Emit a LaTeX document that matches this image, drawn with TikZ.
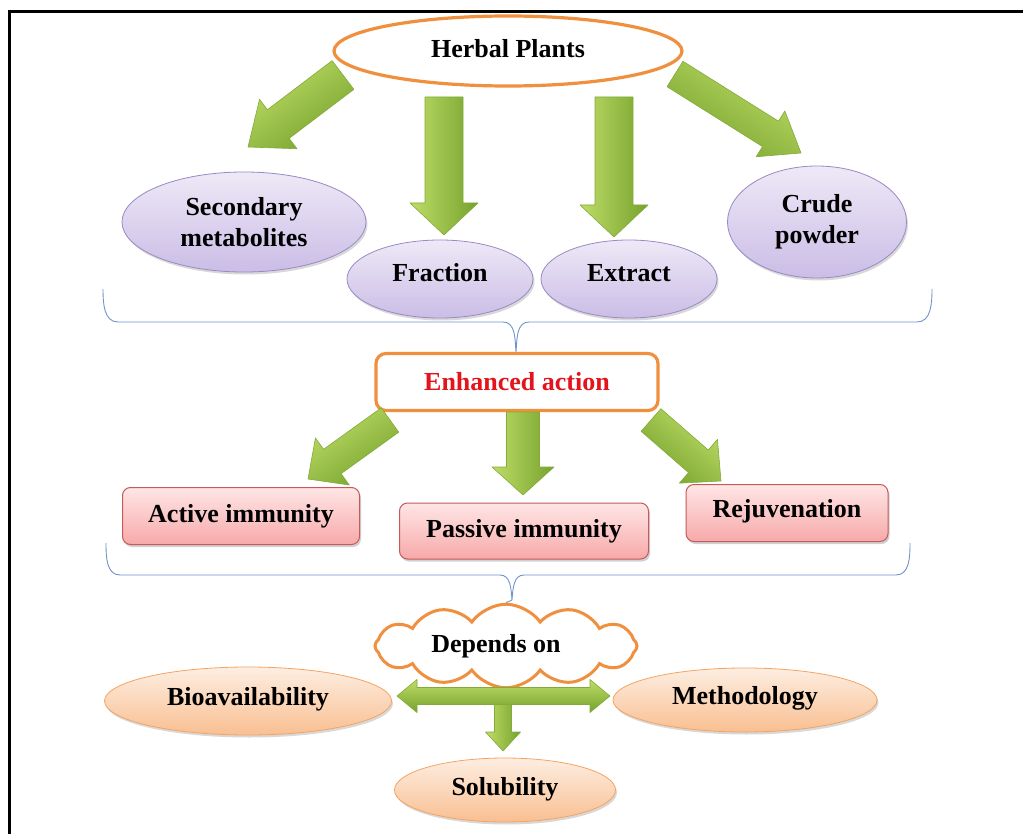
\documentclass[tikz,border=0pt]{standalone}
\usepackage{fontspec}
\setmainfont{Liberation Serif}
\usetikzlibrary{shapes.geometric,shapes.symbols,calc,shadows}

\definecolor{orangeb}{HTML}{F0903F}
\definecolor{lavtop}{HTML}{EEE9F7}
\definecolor{lavbot}{HTML}{CBBDE6}
\definecolor{lavb}{HTML}{9A8AC4}
\definecolor{pinktop}{HTML}{FFE6E6}
\definecolor{pinkbot}{HTML}{F7A9A9}
\definecolor{pinkb}{HTML}{C65A5A}
\definecolor{ortop}{HTML}{FDEEE2}
\definecolor{orbot}{HTML}{F9BF91}
\definecolor{orl}{HTML}{F4A462}
\definecolor{glight}{HTML}{BEDD66}
\definecolor{gmid}{HTML}{9FC845}
\definecolor{gdark}{HTML}{76A22E}
\definecolor{gedge}{HTML}{82AB38}
\definecolor{bracec}{HTML}{7393CC}
\definecolor{redt}{HTML}{E3141B}

\tikzset{
  lbl/.style={font=\fontsize{26}{31}\selectfont\bfseries, align=center, inner sep=0pt},
  herbal/.style={lbl, ellipse, draw=orangeb, line width=3.2pt, fill=white},
  lav/.style={lbl, ellipse, draw=lavb, line width=0.8pt, top color=lavtop, bottom color=lavbot,
    drop shadow={shadow xshift=1.5pt, shadow yshift=-2.5pt, opacity=0.25, fill=black!60}},
  ebox/.style={lbl, rectangle, rounded corners=10pt, draw=orangeb, line width=3.2pt, fill=white, text=redt},
  pbox/.style={lbl, rectangle, rounded corners=8pt, draw=pinkb, line width=1pt, top color=pinktop, bottom color=pinkbot,
    drop shadow={shadow xshift=1.5pt, shadow yshift=-2.5pt, opacity=0.3, fill=black!60}},
  oell/.style={lbl, ellipse, draw=orl, line width=0.8pt, top color=ortop, bottom color=orbot,
    drop shadow={shadow xshift=1.5pt, shadow yshift=-2.5pt, opacity=0.25, fill=black!60}},
  depcloud/.style={lbl, cloud, cloud puffs=12, cloud puff arc=110, aspect=3.7, draw=orangeb, line width=3pt, fill=white},
  garrowstyle/.style={left color=glight, middle color=gmid, right color=gdark, draw=gedge, line width=0.6pt, line join=round},
  bracel/.style={draw=bracec, line width=0.9pt},
}

% #1 start, #2 tip, #3 half shaft, #4 half head, #5 head length, #6 shading angle
\newcommand\garrow[6]{%
  \path ($(#2)!#5!(#1)$) coordinate (gh);
  \draw[garrowstyle, shading angle=#6]
    ($(#1)!#3!90:(#2)$) -- ($(gh)!#3!-90:(#1)$) -- ($(gh)!#4!-90:(#1)$) -- (#2)
    -- ($(gh)!#4!90:(#1)$) -- ($(gh)!#3!90:(#1)$) -- ($(#1)!#3!-90:(#2)$) -- cycle;
}

\begin{document}
\begin{tikzpicture}[x=1pt, y=-1pt]
\useasboundingbox (0,0) rectangle (1023,834);
\fill[white] (0,0) rectangle (1023,834);
\clip (0,0) rectangle (1023,834);
\draw[line width=3pt] (9.5,1000) -- (9.5,11.5) -- (1100,11.5);

% top level
\node[herbal, minimum width=348pt, minimum height=70pt, text depth=6pt] (hp) at (508,51) {Herbal Plants};
\node[lav, minimum width=244pt, minimum height=100pt] (sm) at (244,222) {Secondary\\metabolites};
\node[lav, minimum width=186pt, minimum height=78pt, text depth=13pt] (fr) at (440,279) {Fraction};
\node[lav, minimum width=176pt, minimum height=78pt, text depth=13pt] (ex) at (629,279) {Extract};
\node[lav, minimum width=179pt, minimum height=112pt] (cp) at (817,222) {Crude\\powder};

% arrows from Herbal Plants
\coordinate (a1s) at (343,75);  \coordinate (a1e) at (248,147);
\coordinate (a2s) at (444,97);  \coordinate (a2e) at (444,235);
\coordinate (a3s) at (614,97);  \coordinate (a3e) at (614,237);
\coordinate (a4s) at (675,74);  \coordinate (a4e) at (801,153);
\garrow{a1s}{a1e}{18pt}{31pt}{38pt}{36}
\garrow{a2s}{a2e}{19pt}{34pt}{32pt}{90}
\garrow{a3s}{a3e}{19pt}{34pt}{32pt}{90}
\garrow{a4s}{a4e}{15pt}{27pt}{36pt}{-33}

% brace 1
\coordinate (b1l) at (103,289);
\coordinate (b1t) at (516,352);
\coordinate (b1r) at (932,289);
\draw[bracel] (b1l) to[out=-90,in=180] (118,322) -- (503,322) to[out=0,in=95] (b1t)
  to[out=85,in=180] (529,322) -- (917,322) to[out=0,in=-90] (b1r);

% middle level
\node[ebox, minimum width=282pt, minimum height=57pt] (ea) at (517,382) {Enhanced action};
\node[pbox, minimum width=237pt, minimum height=57pt] (ai) at (241,516) {Active immunity};
\node[pbox, minimum width=249pt, minimum height=56pt] (pi) at (524,531) {Passive immunity};
\node[pbox, minimum width=202pt, minimum height=57pt, text depth=9pt] (rj) at (787,513) {Rejuvenation};

\coordinate (c1s) at (390,420);  \coordinate (c1e) at (308,479);
\coordinate (c2s) at (523,412);  \coordinate (c2e) at (523,495);
\coordinate (c3s) at (651,420);  \coordinate (c3e) at (721,481);
\garrow{c1s}{c1e}{15pt}{29pt}{30pt}{35}
\garrow{c2s}{c2e}{16.5pt}{31pt}{28pt}{90}
\garrow{c3s}{c3e}{15pt}{29pt}{30pt}{-40}

% brace 2
\coordinate (b2l) at (106,543);
\coordinate (b2t) at (512,600);
\coordinate (b2r) at (910,543);
\draw[bracel] (b2l) to[out=-90,in=180] (120,575) -- (500,575) to[out=0,in=95] (b2t)
  to[out=85,in=180] (524,575) -- (896,575) to[out=0,in=-90] (b2r);

% bottom level
\node[depcloud, minimum width=262pt, minimum height=66pt] (dep) at (506,646) {Depends on\hspace*{20pt}};
\draw[bracel] (b2t) -- (dep.north);
\node[oell, minimum width=287pt, minimum height=68pt, text depth=10pt] (bio) at (248,701) {Bioavailability};
\node[oell, minimum width=264pt, minimum height=64pt, text depth=9pt] (meth) at (745,700) {Methodology};
\node[oell, minimum width=221pt, minimum height=64pt, text depth=8pt] (sol) at (505,790) {Solubility};

\coordinate (dc) at (503,696);
\coordinate (dd) at (503,751);
\coordinate (dl) at (397,696);
\coordinate (dr) at (610,696);
\garrow{dc}{dd}{8.5pt}{17.5pt}{19pt}{90}
\draw[garrowstyle, shading angle=0]
  (dl) -- ($(dl)+(20,-16.5)$) -- ($(dl)+(20,-8.5)$) -- ($(dr)+(-20,-8.5)$) -- ($(dr)+(-20,-16.5)$)
  -- (dr) -- ($(dr)+(-20,16.5)$) -- ($(dr)+(-20,8.5)$) -- ($(dl)+(20,8.5)$) -- ($(dl)+(20,16.5)$) -- cycle;
\end{tikzpicture}
\end{document}
